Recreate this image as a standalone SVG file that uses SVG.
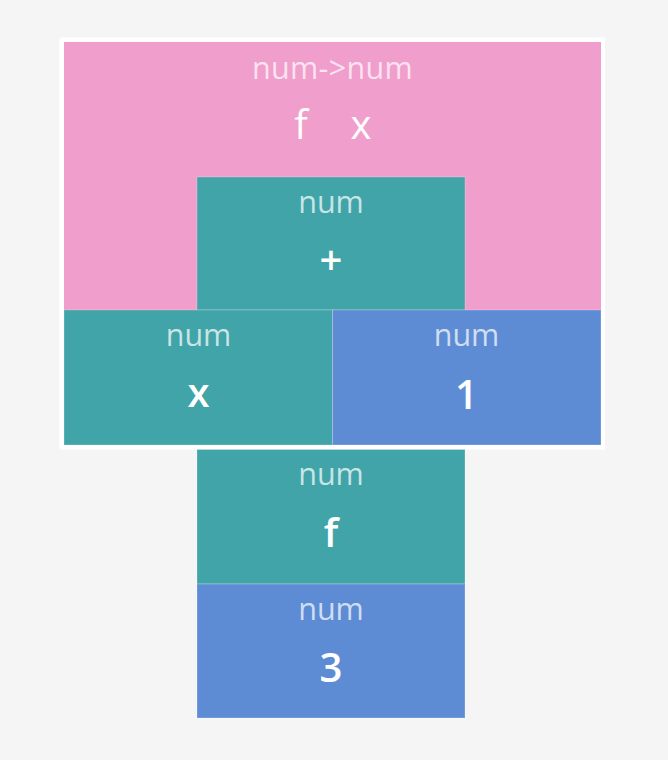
<svg xmlns="http://www.w3.org/2000/svg" width="668" height="760" viewBox="0 0 668 760">
<style>
text{font-family:"Open Sans","Noto Sans","DejaVu Sans",sans-serif;text-anchor:middle}
.ty{font-size:30.5px;fill:#fff;fill-opacity:0.72}
.val{font-size:40px;font-weight:600;fill:#fff}
.hv{font-size:40px;font-weight:500;fill:#fff}
.pink{fill:#f09ecc}
.teal{fill:#40a4a8}
.blue{fill:#5d8cd4}
.cell{stroke:#ffffff;stroke-opacity:0.25;stroke-width:1}
</style>
<rect x="0" y="0" width="668" height="760" fill="#f5f5f5"/>
<g id="lambda">
<rect x="59.5" y="37.5" width="545.5" height="412" fill="#ffffff"/>
<rect class="pink" x="64" y="42" width="537" height="403"/>
<text class="ty" x="332.5" y="79" letter-spacing="0.3">num-&gt;num</text>
<text class="hv" y="139"><tspan x="301">f</tspan><tspan x="361">x</tspan></text>
</g>
<g id="plus">
<rect class="teal cell" x="197" y="177" width="268" height="133"/>
<text class="ty" x="331" y="213">num</text>
<text class="val" x="331" y="274">+</text>
</g>
<g id="var-x">
<rect class="teal cell" x="64" y="310" width="268.5" height="135"/>
<text class="ty" x="198.5" y="346">num</text>
<text class="val" x="198.5" y="407">x</text>
</g>
<g id="const-1">
<rect class="blue cell" x="332.5" y="310" width="268.5" height="135"/>
<text class="ty" x="466.5" y="346">num</text>
<text class="val" x="466.5" y="409">1</text>
</g>
<g id="apply-f">
<rect class="teal cell" x="197" y="449.5" width="268" height="134.5"/>
<text class="ty" x="331" y="485">num</text>
<text class="val" x="331" y="547">f</text>
</g>
<g id="const-3">
<rect class="blue cell" x="197" y="584" width="268" height="134"/>
<text class="ty" x="331" y="620">num</text>
<text class="val" x="331" y="682">3</text>
</g>
<g id="connectors"></g>
</svg>
